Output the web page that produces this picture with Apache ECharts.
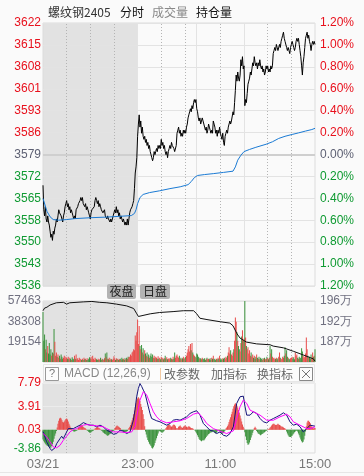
<!DOCTYPE html>
<html><head><meta charset="utf-8">
<script src="https://cdn.jsdelivr.net/npm/echarts@6/dist/echarts.min.js"></script>
<style>html,body{margin:0;padding:0;background:#fafafa}#c{width:364px;height:476px}</style>
</head><body><div id="c"></div>
<script>
// ---------- data ----------
const preClose = 3579.05;
const priceLabels = ['3622','3615','3608','3601','3593','3586','3579','3572','3565','3558','3550','3543','3536'];
const pctLabels = ['1.20%','1.00%','0.80%','0.60%','0.40%','0.20%','0.00%','0.20%','0.40%','0.60%','0.80%','1.00%','1.20%'];
const volLabels = ['57463','38308','19154',''];
const oiLabels = ['196万','192万','187万',''];
const macdLabels = ['7.79','3.91','0.03','-3.86'];
const xLabelVals = [0,120,225,345];
const xLabels = ['03/21','23:00','11:00','15:00'];
const solidLines = [120,195,255];
const dottedLines = [30,60,90,150,180,225,285,315];
const nightEnd = 120;
const volMax = 57463;
const oiMax = 196.4, oiMin = 182.6;
const macdMax = 7.79, macdMin = -3.86;

const priceVals = [
3569,3561,3559,3562,3558,3557,3559,3557,3556,3554,
3552,3553,3551,3554,3553,3555,3556,3558,3557,3559,
3561,3560,3560,3559,3558,3557,3559,3560,3562,3563,
3564,3562,3563,3561,3562,3560,3561,3560,3559,3558,
3559,3558,3561,3561,3562,3563,3563,3564,3565,3564,
3565,3563,3563,3562,3563,3561,3562,3561,3560,3559,
3558,3560,3561,3561,3561,3562,3564,3565,3564,3563,
3564,3562,3563,3562,3561,3561,3560,3560,3561,3559,
3559,3558,3559,3558,3558,3557,3558,3557,3558,3559,
3560,3561,3560,3562,3560,3561,3559,3560,3558,3559,
3558,3557,3558,3557,3556,3557,3556,3558,3556,3558,
3560,3561,3561,3562,3563,3564,3568,3573,3575,3578,
3585,3589,3592,3588,3590,3586,3588,3585,3584,3585,
3583,3584,3582,3583,3581,3582,3580,3579,3578,3577,
3578,3580,3579,3580,3581,3580,3582,3581,3582,3581,
3584,3582,3583,3581,3582,3580,3579,3580,3578,3580,
3581,3582,3581,3583,3582,3582,3581,3580,3580,3582,
3586,3587,3588,3586,3587,3585,3586,3585,3587,3586,
3587,3586,3588,3589,3591,3592,3593,3594,3593,3595,
3594,3596,3597,3596,3597,3594,3593,3591,3590,3591,
3589,3590,3591,3590,3589,3588,3587,3588,3586,3587,
3589,3588,3587,3586,3587,3586,3590,3589,3588,3586,
3587,3585,3587,3586,3588,3586,3585,3584,3586,3583,
3582,3585,3586,3587,3586,3588,3589,3590,3589,3590,
3590,3593,3592,3596,3600,3605,3603,3606,3604,3603,
3605,3610,3608,3611,3607,3608,
3595,3597,3596,3599,
3602,3603,3604,3606,3605,3607,3609,3608,3611,3609,
3608,3609,3607,3609,3608,3610,3608,3607,3608,3606,
3607,3605,3606,3608,3607,3608,3606,3607,3606,3608,
3607,3608,3612,3613,3614,3613,3615,3614,3613,3613,
3615,3614,3616,3617,3618,3619,3617,3616,3616,3614,
3613,3614,3613,3612,3614,3615,3616,3615,3614,3613,
3614,3616,3617,3616,3617,3615,3613,3611,3608,3605,
3609,3611,3614,3617,3618,3619,3617,3618,3616,3615,
3613,3615,3616,3615,3616,3615];

const avgMin = [0,5,9,13,20,30,40,60,80,100,112,116,118,120,123,127,135,148,161,174,184,188,192,196,205,216,229,241,244,247,251,255,262,270,283,291,299,307,316,324,333,341,345];
const avgVal = [3564.7,3560.5,3558.7,3557.8,3557.6,3557.8,3558.1,3558.4,3558.6,3558.9,3559.1,3559.8,3561,3563,3565,3566,3566.6,3567.2,3567.9,3568.5,3569.2,3570.2,3571.5,3572.2,3572.5,3572.8,3573.2,3573.6,3575,3577.2,3578.8,3580,3580.7,3581.4,3582.4,3583.2,3584.3,3585,3585.6,3586.1,3586.7,3587.2,3587.6];

const volVals = [
47000,20000,26000,12000,21000,9000,15000,8000,18000,7000,
12000,6000,9000,8000,31000,19000,6000,9000,5000,7000,
4000,6000,3000,7000,5000,3000,4000,6000,3000,5000,
4000,3000,5000,2500,4000,3000,2000,4500,3000,2500,
6000,3000,7000,2500,3500,2000,4000,3000,2500,2000,
3000,2000,4000,2500,3000,2000,3500,2000,3000,4500,
3000,5000,2500,6000,3000,2000,4000,3000,2500,2000,
3000,2000,2500,4000,2000,3000,2500,2000,3500,8000,
5000,9000,3000,2500,4000,2000,3000,2500,2000,3000,
5500,3000,2000,3500,2500,3000,2000,2500,3000,2000,
4000,2500,3000,2000,3500,2500,4000,3000,5000,4500,
5000,7000,6000,9000,10000,12000,11000,25000,20000,28000,
40000,17000,34000,15000,12000,16000,9000,13000,7000,11000,
8000,6000,9000,5000,7000,4000,6000,8000,5000,7000,
4000,6000,3500,5000,4000,3000,5500,3000,4000,2500,
5000,3000,4000,2500,3500,6000,3000,4500,2500,3000,
3500,2500,4000,3000,2500,5000,3000,9000,4000,6000,
7000,5000,4000,6000,3000,4000,2500,3500,5000,3000,
4000,5000,6000,9000,12000,15000,10000,17000,11000,18000,
9000,7000,6000,5000,4000,8000,7000,5000,4000,3000,
3500,2500,4000,3000,2500,3500,2000,3000,4000,2500,
3000,2500,3500,2000,4000,3000,6000,2500,3000,2000,
3000,2500,4000,3000,6000,2500,3000,2000,3500,3000,
4000,3000,5000,4000,6000,9000,14000,8000,11000,7000,
6000,9000,12000,20000,42000,38000,28000,20000,15000,12000,
10000,18000,24000,30000,20000,22000,
57463,23000,15000,12000,
14000,8000,11000,6000,9000,5000,7000,4000,6000,3000,
5000,7000,4000,3000,5000,2500,4000,3000,2000,3500,
3000,4000,2500,3000,5000,3500,2500,4000,15000,8000,
12000,5000,3500,4000,2500,3000,4000,2500,3500,5000,
9000,4000,3000,2500,5000,4000,6000,14000,8000,11000,
5000,4000,3000,2500,3500,4000,5000,3000,4500,2500,
9000,6000,7000,4000,3000,5000,3500,4000,13000,10000,
6000,4000,5000,8000,23000,12000,6000,4000,5000,3000,
7000,4000,9000,5000,6000,12000];

const oiMin_ = [0,2,5,9,17,26,30,34,51,62,72,81,93,106,115,119,121,123,136,148,165,178,191,195,199,208,225,237,241,246,250,258,271,288,292,305,318,330,343,345];
const oiVal = [194.2,194.8,195.0,195.5,196.0,196.1,195.7,196.0,196.2,196.3,196.1,196.0,195.7,195.3,194.7,193.5,192.9,193.2,193.5,193.8,194.0,194.2,194.2,193.5,192.5,192.2,191.7,191.4,190.8,189.0,188.0,187.1,186.7,186.5,186.2,185.8,185.0,184.2,183.3,182.8];

const macdHist = [
-1.6,-1.9,-2.1,-2.3,-2.5,-2.6,-2.7,-2.8,-2.7,-2.9,
-3.0,-2.7,-2.4,-2.0,-1.5,-1.0,-0.6,-0.2,0.4,1.0,
1.5,1.9,2.0,1.9,1.6,1.3,1.2,1.4,1.6,1.8,
1.9,1.7,1.4,1.0,0.7,0.4,0.2,-0.1,-0.2,-0.3,
-0.3,-0.25,-0.2,-0.1,0.1,0.3,0.5,0.7,0.8,0.7,
0.6,0.5,0.4,0.3,0.2,0.1,-0.1,-0.2,-0.35,-0.45,
-0.5,-0.4,-0.3,-0.2,-0.1,0.1,0.2,0.3,0.4,0.45,
0.4,0.3,0.2,0.1,-0.1,-0.2,-0.4,-0.5,-0.6,-0.7,
-0.8,-0.9,-1.0,-0.9,-0.8,-0.7,-0.6,-0.5,-0.4,-0.2,
-0.1,0.2,0.4,0.6,0.7,0.6,0.5,0.4,0.3,0.1,
-0.1,-0.2,-0.4,-0.5,-0.5,-0.4,-0.3,-0.2,0.1,0.3,
0.5,0.8,1.2,1.6,2.0,2.6,3.2,3.8,4.4,4.9,
5.2,5.4,5.2,4.8,4.3,3.8,3.3,2.6,1.8,0.6,
-0.3,-0.8,-1.3,-1.7,-2.0,-2.3,-2.5,-2.7,-3.0,-3.1,
-2.9,-2.6,-2.2,-1.8,-1.4,-1.0,-0.6,-0.3,-0.2,-0.3,
-0.4,-0.5,-0.4,-0.3,-0.1,0.1,0.3,0.5,0.7,0.8,
0.9,0.8,0.6,0.5,0.6,0.8,0.9,0.8,0.6,0.3,
0.1,0.3,0.5,0.6,0.7,0.5,0.4,0.3,0.5,0.6,
0.7,0.6,0.5,0.4,0.5,0.6,0.5,0.4,0.3,0.3,
0.2,0.1,0.0,-0.2,-0.4,-0.6,-0.9,-1.2,-1.5,-1.7,
-1.8,-1.9,-1.8,-1.7,-1.8,-1.6,-1.4,-1.2,-1.0,-0.9,
-0.7,-0.6,-0.5,-0.4,-0.4,-0.3,-0.2,-0.4,-0.5,-0.6,
-0.5,-0.3,-0.1,0.1,-0.2,-0.4,-0.6,-0.7,-0.6,-0.5,
-0.3,-0.1,0.2,0.4,0.6,0.9,1.3,1.7,2.1,2.6,
3.0,3.5,3.9,4.2,4.4,4.3,4.0,3.7,3.3,2.9,
2.4,1.9,1.4,0.9,0.5,0.2,-0.4,-1.1,-1.7,-2.2,
-2.5,-2.4,-2.1,-1.7,-1.3,-0.9,-0.5,-0.1,0.3,0.5,
0.3,-0.2,-0.4,-0.6,-0.7,-0.8,-0.9,-0.8,-0.7,-0.6,
-0.5,-0.4,-0.3,-0.2,-0.1,0.1,0.1,0.2,0.4,0.5,
0.7,0.9,1.0,1.0,0.9,0.8,0.8,0.9,1.0,0.9,
0.8,0.7,0.6,0.5,0.5,0.4,0.3,0.2,0.1,-0.3,
-0.6,-0.9,-1.1,-1.2,-1.2,-1.1,-1.0,-0.8,-0.6,-0.4,
-0.3,-0.2,-0.1,-0.3,-0.6,-0.9,-1.3,-1.6,-1.9,-2.1,
-2.0,-1.6,-1.0,-0.3,0.6,1.2,1.5,1.5,1.3,1.1,
0.8,0.5,0.3,0.2,0.3,0.3];

const difMin = [0,4.7,8.9,11,13.1,15.2,17.3,19.5,21.6,23.7,25.8,27.9,30,32.1,34.2,38.5,42.7,46.9,51.2,55.4,59.6,63.8,68,72.3,76.5,80.8,85,89.2,93.4,97.7,101.9,106.1,108.2,110.4,112.5,114.6,116.7,118.8,121,123,125.2,127.3,129.4,131.5,133.6,135.7,137.8,140,144.2,148.4,152.6,156.9,161.1,165.3,169.6,173.8,178,182.2,186.5,190.7,194.9,197,199.2,203.4,207.6,211.8,216.1,220.3,224.5,228.8,233,237.2,241.4,245.7,249.9,252,254.1,256.3,258.4,260.5,262.6,264.7,266.8,271,275.3,279.5,283.7,288,292.2,296.4,300.6,304.9,307,309.1,313.3,317.5,321.8,326,330.2,332.3,334.5,338.7,345];
const difVal = [-0.3,-2.0,-3.1,-3.45,-3.3,-3.0,-2.3,-2.0,-1.46,-1.07,-1.46,-1.3,-0.35,0.2,0.32,0.2,0.5,0.77,1.2,0.94,0.77,0.77,0.5,0.77,0.5,-0.07,-0.35,-0.74,-0.62,-0.07,-0.23,-0.62,-0.74,-0.35,-0.07,1.6,3.28,5.5,6.9,7.7,7.2,6.6,6.06,4.95,3.83,2.72,1.88,1.6,1.5,1.33,1.05,0.77,1.05,1.6,1.72,1.6,1.88,2.16,2.72,3.0,3.17,3.0,2.44,1.05,0.5,-0.07,-0.23,-0.62,-0.35,-0.9,-1.07,-0.62,0.5,4.4,5.5,5.8,5.6,3.83,2.44,2.16,2.44,2.72,3.0,2.72,1.88,1.33,1.16,1.6,1.88,2.16,2.44,2.83,2.89,2.44,1.33,0.77,0.94,0.5,-0.35,-0.51,0.2,0.77,0.6];
const deaMin = [0,4.7,8.9,13.1,15.2,17.3,21.6,25.8,30,34.2,38.5,42.7,46.9,51.2,55.4,59.6,68,76.5,80.8,89.2,97.7,106.1,112.5,116.7,118.8,123,127.3,131.5,135.7,140,144.2,148.4,156.9,165.3,173.8,182.2,190.7,197,203.4,207.6,216.1,224.5,233,241.4,245.7,249.9,254.1,258.4,262.6,266.8,275.3,283.7,292.2,300.6,309.1,313.3,317.5,326,334.5,338.7,345];
const deaVal = [-0.62,-1.18,-2.0,-2.85,-3.13,-3.0,-2.58,-1.74,-1.07,-0.35,0.04,0.2,0.5,0.77,0.88,0.77,0.66,0.5,0.2,-0.35,-0.35,-0.46,-0.35,0.5,2.16,4.95,6.34,5.79,4.4,3.0,2.16,1.6,1.16,1.33,1.5,1.88,2.6,2.83,1.88,1.05,0.2,-0.23,-0.62,-0.18,1.88,3.83,4.95,4.4,3.28,3.0,2.44,1.6,1.6,2.16,2.6,2.16,1.33,0.77,0.2,0.2,0.5];

// ---------- styles ----------
const FONT = '"Liberation Sans", Arial, sans-serif';
const CJK = '"Noto Sans CJK SC", sans-serif';
const UP = '#e8101c', DOWN = '#0f9a32', FLAT = '#5c5f72';
const BAR_UP = '#e84a48', BAR_DOWN = '#3b923c';
const GRID_C = '#e3e3e3', DOT_C = '#b4b4b4', NIGHT_C = '#e2e2e2';

function vLines() {
  return solidLines.map(v => ({xAxis: v, lineStyle: {type: 'solid', color: GRID_C, width: 1}}))
    .concat(dottedLines.map(v => ({xAxis: v, lineStyle: {type: [1, 2], color: DOT_C, width: 1}})));
}
function nightArea() {
  return {silent: true, z: -1, itemStyle: {color: NIGHT_C}, data: [[{xAxis: 0}, {xAxis: nightEnd}]]};
}
function labelAxis(g, pos, n, labels, colorFn, margin, split, extra) {
  return Object.assign({
    gridIndex: g, type: 'value', min: 0, max: n, interval: 1, position: pos,
    axisLine: {show: false}, axisTick: {show: false},
    axisLabel: {margin: margin, fontSize: 12, fontFamily: FONT,
      formatter: v => labels[n - Math.round(v)], color: colorFn},
    splitLine: {show: split, lineStyle: {color: GRID_C, width: 1}}
  }, extra || {});
}

const chart = echarts.init(document.getElementById('c'), null, {renderer: 'canvas'});
const priceColor = v => { const i = 12 - Math.round(Number(v)); return i < 6 ? UP : (i === 6 ? FLAT : DOWN); };

chart.setOption({
  animation: false,
  backgroundColor: '#fafafa',
  textStyle: {fontFamily: FONT},
  grid: [
    {left: 43, top: 23, width: 272, height: 263, show: true, borderColor: '#dcdcdc', borderWidth: 1, backgroundColor: 'transparent'},
    {left: 43, top: 301, width: 272, height: 61, show: true, borderColor: '#dcdcdc', borderWidth: 1, backgroundColor: 'transparent'},
    {left: 43, top: 383, width: 272, height: 70, show: true, borderColor: '#dcdcdc', borderWidth: 1, backgroundColor: 'transparent'}
  ],
  xAxis: [0, 1, 2].map(g => ({
    gridIndex: g, type: 'value', min: 0, max: 345,
    axisLine: {show: false}, axisTick: {show: false}, splitLine: {show: false},
    axisLabel: g === 2 ? {show: true, customValues: xLabelVals, margin: 5, fontSize: 13, fontFamily: FONT, color: '#777',
      formatter: v => xLabels[xLabelVals.indexOf(Math.round(v))]} : {show: false}
  })),
  yAxis: [
    labelAxis(0, 'left', 12, priceLabels, priceColor, 2, true),
    labelAxis(0, 'right', 12, pctLabels, priceColor, 5, false),
    {gridIndex: 0, type: 'value', min: preClose * 0.988, max: preClose * 1.012, show: false},
    labelAxis(1, 'left', 3, volLabels, '#707080', 2, true),
    labelAxis(1, 'right', 3, oiLabels, '#707080', 5, false),
    {gridIndex: 1, type: 'value', min: 0, max: volMax, show: false},
    {gridIndex: 1, type: 'value', min: oiMin, max: oiMax, show: false},
    {gridIndex: 2, type: 'value', min: 0, max: 3, interval: 1, position: 'left',
      axisLine: {show: false}, axisTick: {show: false},
      axisLabel: {margin: 2, fontSize: 12, fontFamily: FONT,
        formatter: v => { const i = 3 - Math.round(v); return i === 3 ? '{lo|' + macdLabels[i] + '}' : '{hi|' + macdLabels[i] + '}'; },
        rich: {hi: {color: UP, fontSize: 12, fontFamily: FONT}, lo: {color: DOWN, fontSize: 12, fontFamily: FONT, padding: [0, 0, 9, 0]}}},
      splitLine: {show: true, lineStyle: {color: '#ececec', width: 1}}},
    {gridIndex: 2, type: 'value', min: macdMin, max: macdMax, show: false}
  ],
  series: [
    {type: 'line', name: 'price', xAxisIndex: 0, yAxisIndex: 2, z: 3, showSymbol: false, symbol: 'none',
      data: priceVals.map((v, i) => [i, v]), lineStyle: {color: '#000', width: 1}, itemStyle: {color: '#000'},
      markArea: nightArea(),
      markLine: {silent: true, z: 1, symbol: ['none', 'none'], label: {show: false},
        data: vLines().concat([{yAxis: preClose, lineStyle: {type: 'solid', color: '#cfcfcf', width: 2}}])}},
    {type: 'line', name: 'avg', xAxisIndex: 0, yAxisIndex: 2, z: 3, showSymbol: false, symbol: 'none',
      data: avgMin.map((m, i) => [m, avgVal[i]]), lineStyle: {color: '#1a7ad4', width: 1}},
    {type: 'bar', name: 'vol', xAxisIndex: 1, yAxisIndex: 5, z: 2, barWidth: 1,
      data: volVals.map((v, i) => [i, v]),
      itemStyle: {color: p => { const i = p.dataIndex; const prev = i === 0 ? preClose : priceVals[i - 1]; return priceVals[i] >= prev ? BAR_UP : BAR_DOWN; }},
      markArea: nightArea(),
      markLine: {silent: true, z: 1, symbol: ['none', 'none'], label: {show: false}, data: vLines()}},
    {type: 'line', name: 'oi', xAxisIndex: 1, yAxisIndex: 6, z: 4, showSymbol: false, symbol: 'none',
      data: oiMin_.map((m, i) => [m, oiVal[i]]), lineStyle: {color: '#111', width: 1}},
    {type: 'bar', name: 'macd', xAxisIndex: 2, yAxisIndex: 8, z: 2, barWidth: 1,
      data: macdHist.map((v, i) => [i, v]),
      itemStyle: {color: p => p.value[1] >= 0 ? BAR_UP : BAR_DOWN},
      markArea: nightArea(),
      markLine: {silent: true, z: 1, symbol: ['none', 'none'], label: {show: false}, data: vLines()}},
    {type: 'line', name: 'dif', xAxisIndex: 2, yAxisIndex: 8, z: 4, showSymbol: false, symbol: 'none',
      data: difMin.map((m, i) => [m, difVal[i]]), lineStyle: {color: '#14147a', width: 1}},
    {type: 'line', name: 'dea', xAxisIndex: 2, yAxisIndex: 8, z: 4, showSymbol: false, symbol: 'none',
      data: deaMin.map((m, i) => [m, deaVal[i]]), lineStyle: {color: '#ff00ff', width: 1}}
  ],
  graphic: [
    {type: 'text', x: 48, y: 12, style: {text: '螺纹钢2405', font: '12px ' + CJK, fill: '#333', verticalAlign: 'middle'}},
    {type: 'text', x: 120, y: 12, style: {text: '分时', font: '12px ' + CJK, fill: '#111', verticalAlign: 'middle'}},
    {type: 'text', x: 152, y: 12, style: {text: '成交量', font: '12px ' + CJK, fill: '#888', verticalAlign: 'middle'}},
    {type: 'text', x: 196, y: 12, style: {text: '持仓量', font: '12px ' + CJK, fill: '#111', verticalAlign: 'middle'}},
    {type: 'rect', shape: {x: 107, y: 284, width: 29, height: 15, r: 2}, style: {fill: '#b3b3b3'}, z: 10},
    {type: 'text', x: 121.5, y: 291.5, z: 11, style: {text: '夜盘', font: '12px ' + CJK, fill: '#222', align: 'center', verticalAlign: 'middle'}},
    {type: 'rect', shape: {x: 140, y: 284, width: 30, height: 15, r: 2}, style: {fill: '#b3b3b3'}, z: 10},
    {type: 'text', x: 155, y: 291.5, z: 11, style: {text: '日盘', font: '12px ' + CJK, fill: '#222', align: 'center', verticalAlign: 'middle'}},
    {type: 'rect', shape: {x: 43.5, y: 364.5, width: 271, height: 17}, style: {fill: '#fcfcfc', stroke: '#e6e6e6', lineWidth: 1}},
    {type: 'rect', shape: {x: 45.5, y: 367.5, width: 13, height: 13}, style: {fill: 'none', stroke: '#999', lineWidth: 1}},
    {type: 'text', x: 52, y: 374, style: {text: '?', font: '11px ' + FONT, fill: '#777', align: 'center', verticalAlign: 'middle'}},
    {type: 'text', x: 64, y: 374, style: {text: 'MACD (12,26,9)', font: '12px ' + FONT, fill: '#888', verticalAlign: 'middle'}},
    {type: 'line', shape: {x1: 160.5, y1: 368, x2: 160.5, y2: 380}, style: {stroke: '#f2c9a2', lineWidth: 1}},
    {type: 'text', x: 164, y: 374, style: {text: '改参数', font: '12px ' + CJK, fill: '#666', verticalAlign: 'middle'}},
    {type: 'text', x: 211, y: 374, style: {text: '加指标', font: '12px ' + CJK, fill: '#666', verticalAlign: 'middle'}},
    {type: 'text', x: 257, y: 374, style: {text: '换指标', font: '12px ' + CJK, fill: '#666', verticalAlign: 'middle'}},
    {type: 'rect', shape: {x: 299.5, y: 367.5, width: 13, height: 13}, style: {fill: 'none', stroke: '#888', lineWidth: 1}},
    {type: 'line', shape: {x1: 302, y1: 370, x2: 310, y2: 378}, style: {stroke: '#777', lineWidth: 1}},
    {type: 'line', shape: {x1: 310, y1: 370, x2: 302, y2: 378}, style: {stroke: '#777', lineWidth: 1}},
    {type: 'line', shape: {x1: 0, y1: 472.5, x2: 364, y2: 472.5}, style: {stroke: '#e6e6e6', lineWidth: 1}}
  ]
});
</script></body></html>
